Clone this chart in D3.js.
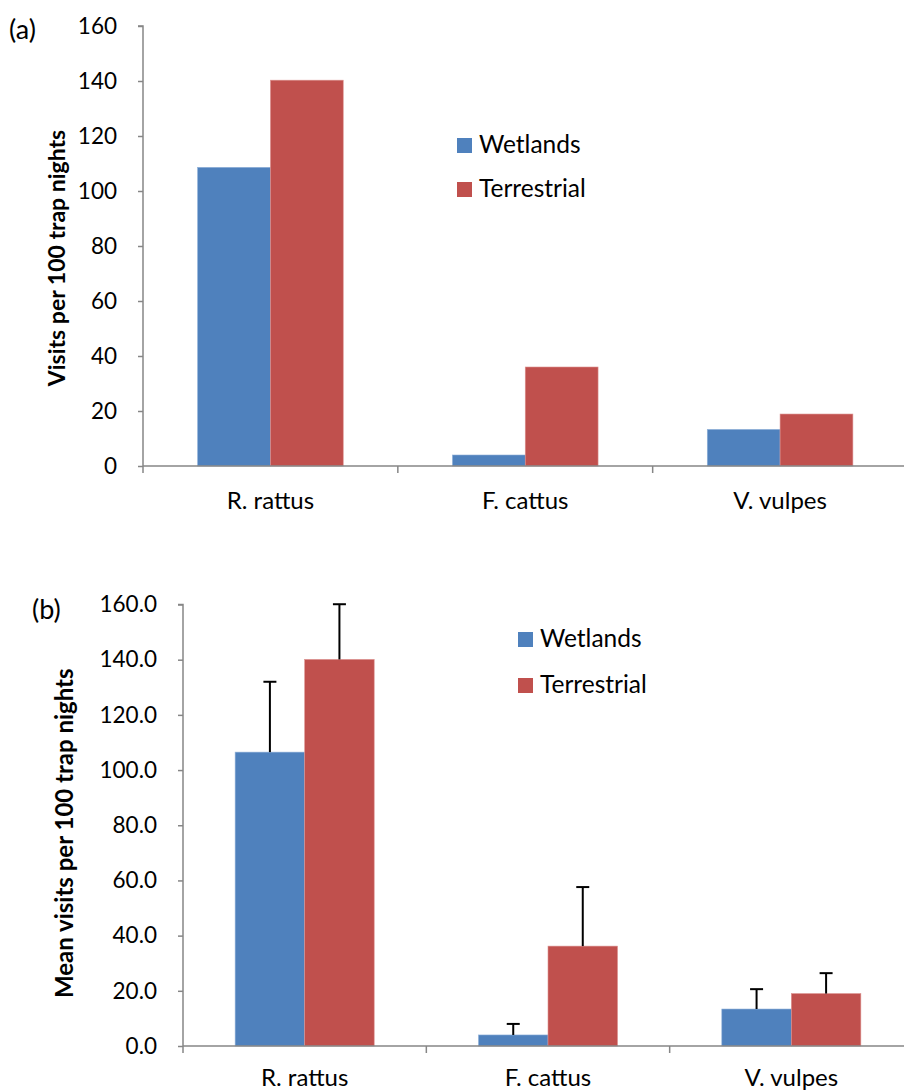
<!DOCTYPE html>
<html>
<head>
<meta charset="utf-8">
<script src="https://cdn.jsdelivr.net/npm/d3@7"></script>
<style>
  html, body { margin: 0; padding: 0; background: #fff; }
  svg { display: block; }
  text { font-family: Lato, "Open Sans", sans-serif; fill: #000; }
</style>
</head>
<body>
<svg id="chart" width="904" height="1092"></svg>
<script>
// Species and habitat series
const species = ["R. rattus", "F. cattus", "V. vulpes"];
const seriesNames = ["Wetlands", "Terrestrial"];
const seriesColors = ["#4F81BD", "#C0504D"];

// Panel (a): visits per 100 trap nights
const visitsWetlands = [108.6, 4.0, 13.3];
const visitsTerrestrial = [140.3, 36.0, 18.9];
const ticksA = [0, 20, 40, 60, 80, 100, 120, 140, 160];

// Panel (b): mean visits per 100 trap nights with upper error bars
const meanWetlands = [106.5, 4.0, 13.4];
const meanTerrestrial = [140.1, 36.2, 19.0];
const errWetlands = [25.5, 4.0, 7.2];
const errTerrestrial = [20.0, 21.4, 7.4];
const ticksB = [0, 20, 40, 60, 80, 100, 120, 140, 160];

const svg = d3.select("#chart");
const axisColor = "#868686";

function drawPanel(cfg) {
  const g = svg.append("g");
  const y = d3.scaleLinear().domain([0, 160]).range([cfg.bottom, cfg.top]);
  const x0 = d3.scaleBand().domain(species).range([cfg.left, cfg.right]).paddingInner(0).paddingOuter(0);
  const x1 = d3.scaleBand().domain(seriesNames).range([0, x0.bandwidth()]).paddingOuter(0.75).paddingInner(0);

  const rows = species.map((s, i) => ({
    s,
    vals: cfg.values.map((arr, k) => ({ name: seriesNames[k], v: arr[i], e: cfg.errors ? cfg.errors[k][i] : null, k }))
  }));

  // bars
  const grp = g.selectAll("g.cat").data(rows).join("g")
    .attr("transform", d => `translate(${x0(d.s)},0)`);
  grp.selectAll("rect").data(d => d.vals).join("rect")
    .attr("x", d => x1(d.name))
    .attr("width", x1.bandwidth())
    .attr("y", d => y(d.v))
    .attr("height", d => y(0) - y(d.v))
    .attr("fill", d => seriesColors[d.k])
    .attr("stroke", d => d.k === 0 ? "#8FB0D8" : "#DC9290")
    .attr("stroke-width", 0.6);

  // error bars (upper only)
  if (cfg.errors) {
    const eb = grp.selectAll("g.err").data(d => d.vals).join("g");
    eb.append("line")
      .attr("x1", d => x1(d.name) + x1.bandwidth() / 2)
      .attr("x2", d => x1(d.name) + x1.bandwidth() / 2)
      .attr("y1", d => y(d.v))
      .attr("y2", d => y(d.v + d.e))
      .attr("stroke", "#000").attr("stroke-width", 2);
    eb.append("line")
      .attr("x1", d => x1(d.name) + x1.bandwidth() / 2 - 6.5)
      .attr("x2", d => x1(d.name) + x1.bandwidth() / 2 + 6.5)
      .attr("y1", d => y(d.v + d.e))
      .attr("y2", d => y(d.v + d.e))
      .attr("stroke", "#000").attr("stroke-width", 2);
  }

  // y axis
  const yAxis = d3.axisLeft(y).tickValues(cfg.ticks).tickSize(5).tickPadding(21)
    .tickFormat(cfg.fmt);
  const ya = g.append("g").attr("transform", `translate(${cfg.left},0)`).call(yAxis);
  ya.select(".domain").attr("stroke", axisColor).attr("stroke-width", 1.5).attr("d", `M-5,${y(160)}H0V${y(0)}`);
  ya.selectAll(".tick line").attr("stroke", axisColor).attr("stroke-width", 1.5);
  ya.selectAll(".tick text").attr("font-size", 22.5).attr("font-family", "Lato, sans-serif").attr("fill", "#000");

  // x axis
  const bounds = species.map(s => x0(s)).concat([cfg.right]);
  const xa = g.append("g");
  xa.append("line").attr("x1", cfg.left).attr("x2", cfg.right).attr("y1", y(0)).attr("y2", y(0))
    .attr("stroke", axisColor).attr("stroke-width", 1.5);
  xa.selectAll("line.t").data(bounds).join("line").attr("class", "t")
    .attr("x1", d => d).attr("x2", d => d).attr("y1", y(0)).attr("y2", y(0) + 7)
    .attr("stroke", axisColor).attr("stroke-width", 1.5);
  xa.selectAll("text").data(species).join("text")
    .attr("x", d => x0(d) + x0.bandwidth() / 2)
    .attr("y", y(0) + cfg.labelOffset)
    .attr("text-anchor", "middle").attr("font-size", 24)
    .text(d => d);

  // axis title
  g.append("text")
    .attr("transform", `translate(${cfg.titleX},${(cfg.top + cfg.bottom) / 2 + cfg.titleDy}) rotate(-90)`)
    .attr("text-anchor", "middle").attr("dominant-baseline", "central")
    .attr("font-size", cfg.titleSize).attr("font-weight", "bold")
    .text(cfg.title);

  // panel label
  g.append("text").attr("x", cfg.panelX).attr("y", cfg.panelY).attr("font-size", 27).text(cfg.panel);

  // legend
  const lg = g.append("g").attr("transform", `translate(${cfg.legX},${cfg.legY})`);
  seriesNames.forEach((n, k) => {
    lg.append("rect").attr("x", 0).attr("y", k * cfg.legGap).attr("width", 15).attr("height", 15).attr("fill", seriesColors[k]);
    lg.append("text").attr("x", 22).attr("y", k * cfg.legGap + 15).attr("font-size", 24.5).text(n);
  });
}

drawPanel({
  top: 26, bottom: 466, left: 143, right: 907.5,
  values: [visitsWetlands, visitsTerrestrial], errors: null,
  ticks: ticksA, fmt: d3.format("d"),
  labelOffset: 43, title: "Visits per 100 trap nights", titleX: 56, titleDy: 12, titleSize: 23,
  panel: "(a)", panelX: 9, panelY: 39,
  legX: 457, legY: 138, legGap: 44
});

drawPanel({
  top: 604.5, bottom: 1046, left: 183, right: 913,
  values: [meanWetlands, meanTerrestrial], errors: [errWetlands, errTerrestrial],
  ticks: ticksB, fmt: d3.format(".1f"),
  labelOffset: 40, title: "Mean visits per 100 trap nights", titleX: 63, titleDy: 8, titleSize: 24,
  panel: "(b)", panelX: 32, panelY: 619,
  legX: 518, legY: 632, legGap: 46
});
</script>
</body>
</html>
